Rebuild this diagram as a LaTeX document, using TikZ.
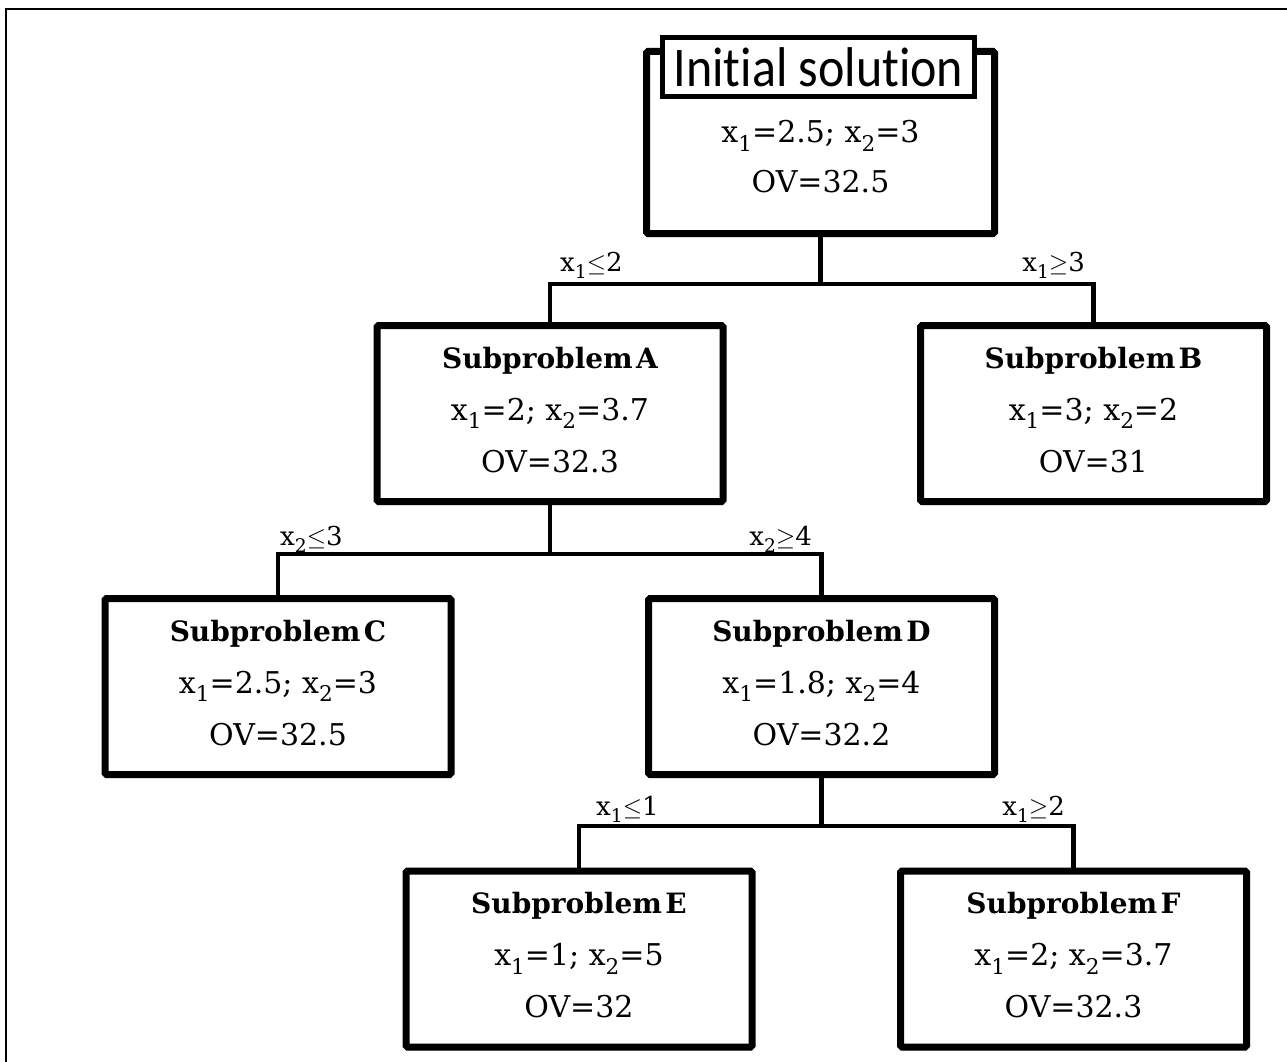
\documentclass[tikz,border=0pt]{standalone}
\usepackage{fontspec}
\usepackage{graphicx}
\setmainfont{DejaVu Serif}
\newfontfamily\titlefont[Ligatures=NoCommon]{Carlito}
\usetikzlibrary{shadows}
% variable with a lowered subscript index
\newcommand\xs[1]{x\raisebox{-0.28em}{\scalebox{0.72}{#1}}}
% extra depth on the last line to lift the text block a little
\newcommand\lift{\rule[-8pt]{0pt}{8pt}}
% bold heading line of a subproblem box
\newcommand\hd[1]{{\bfseries\fontsize{28}{30}\selectfont Subproblem\hspace{0.12em}#1}}
\begin{document}
\begin{tikzpicture}[x=1pt, y=-1pt,
  box/.style={draw, line width=7pt, rounded corners=1.5pt, fill=white,
    minimum width=346pt, minimum height=176pt, align=center, inner sep=0pt,
    font=\fontsize{30}{52}\selectfont,
    drop shadow={fill=black, opacity=0.18, shadow xshift=1.5pt, shadow yshift=-3.5pt}},
  titlebox/.style={draw, line width=4.5pt, fill=white, minimum width=312pt,
    minimum height=59pt, inner sep=0pt, font=\titlefont\fontsize{50}{56}\selectfont},
  values/.style={align=center, inner sep=0pt, font=\fontsize{30}{50}\selectfont},
  link/.style={line width=4.3pt},
  cond/.style={inner sep=0pt, font=\fontsize{26}{30}\selectfont}]

\useasboundingbox (0,0) rectangle (1287,1062);

% outer frame (left and top edges)
\draw[line width=2.5pt] (6,1062) -- (6,9) -- (1287,9);

% root problem
\node[box, minimum width=348pt, minimum height=182pt] (top) at (820.5,142.5) {};
\node[values] (topval) at (820.5,157) {\xs{1}=2.5; \xs{2}=3\\OV=32.5};
\node[titlebox] (title) at (818.5,67) {\scalebox{1}[1.12]{Initial solution}};

% subproblems
\node[box] (A) at (550,413.5)    {\hd{A}\\\xs{1}=2; \xs{2}=3.7\\OV=32.3\lift};
\node[box] (B) at (1093.5,413.5) {\hd{B}\\\xs{1}=3; \xs{2}=2\\OV=31\lift};
\node[box] (C) at (278,686.5)    {\hd{C}\\\xs{1}=2.5; \xs{2}=3\\OV=32.5\lift};
\node[box] (D) at (821.5,686.5)  {\hd{D}\\\xs{1}=1.8; \xs{2}=4\\OV=32.2\lift};
\node[box] (E) at (579,959)      {\hd{E}\\\xs{1}=1; \xs{2}=5\\OV=32\lift};
\node[box] (F) at (1073.5,959)   {\hd{F}\\\xs{1}=2; \xs{2}=3.7\\OV=32.3\lift};

% branching junctions
\coordinate (j0) at (820.5,284);
\coordinate (jA) at (550,554);
\coordinate (jD) at (821.5,826);

\draw[link] (top.south) -- (j0);
\draw[link] (j0) -| (A.north);
\draw[link] (j0) -| (B.north);
\draw[link] (A.south) -- (jA);
\draw[link] (jA) -| (C.north);
\draw[link] (jA) -| (D.north);
\draw[link] (D.south) -- (jD);
\draw[link] (jD) -| (E.north);
\draw[link] (jD) -| (F.north);

% branching conditions
\node[cond, anchor=base west] (cA) at (560,271) {\xs{1}$\leq$2};
\node[cond, anchor=base east] (cB) at (1085,271) {\xs{1}$\geq$3};
\node[cond, anchor=base west] (cC) at (280,545) {\xs{2}$\leq$3};
\node[cond, anchor=base east] (cD) at (812,545) {\xs{2}$\geq$4};
\node[cond, anchor=base west] (cE) at (596,815) {\xs{1}$\leq$1};
\node[cond, anchor=base east] (cF) at (1065,815) {\xs{1}$\geq$2};
\end{tikzpicture}
\end{document}
